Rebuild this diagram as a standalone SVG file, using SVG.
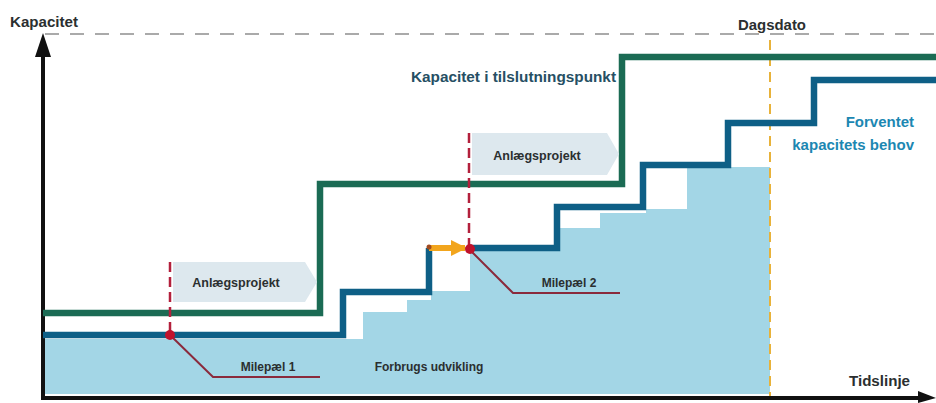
<svg xmlns="http://www.w3.org/2000/svg" width="936" height="403" viewBox="0 0 936 403">
<style>
.lbl{font-family:"Liberation Sans",Arial,sans-serif;font-weight:bold;fill:#2b2f30}
.ax{stroke:#111;stroke-width:4;fill:none}
.step{fill:none;stroke-width:6.5;stroke-linejoin:miter}
.ms{stroke:#b3203c;stroke-width:2.5;stroke-dasharray:10 5;fill:none}
.lead{stroke:#8a2a3c;stroke-width:2;fill:none}
.proj{fill:#dde8ee}
</style>
<defs>
<marker id="ah" markerWidth="16" markerHeight="16" refX="14" refY="8" orient="auto" markerUnits="userSpaceOnUse">
<path d="M0,0 L16,8 L0,16 Z" fill="#f2a51d"/>
</marker>
</defs>
<rect width="936" height="403" fill="#fff"/>
<g id="forbrug">
<polygon points="45,394 45,339 363,339 363,312 407,312 407,300 431,300 431,291 470,291 470,251 560,251 560,228 600,228 600,213 646,213 646,209 687,209 687,167 770,167 770,394" fill="#a3d6e6"/>
<text class="lbl" x="429" y="371" font-size="12" text-anchor="middle">Forbrugs udvikling</text>
</g>
<g id="axes">
<line x1="45" y1="34" x2="936" y2="34" stroke="#aaa" stroke-width="2" stroke-dasharray="14 11"/>
<line x1="43" y1="398" x2="43" y2="55" class="ax"/>
<polygon points="43,33 35,57 51,57" fill="#111"/>
<line x1="41" y1="398" x2="920" y2="398" class="ax"/>
<polygon points="936,398 918,391 918,403" fill="#111"/>
<text class="lbl" x="10" y="27" font-size="14" textLength="68" lengthAdjust="spacingAndGlyphs">Kapacitet</text>
<text class="lbl" x="849" y="386" font-size="14" textLength="61" lengthAdjust="spacingAndGlyphs">Tidslinje</text>
</g>
<g id="dagsdato">
<line x1="770" y1="40" x2="770" y2="396" stroke="#e8b23a" stroke-width="2" stroke-dasharray="10 6"/>
<text class="lbl" x="738" y="30" font-size="14" textLength="68" lengthAdjust="spacingAndGlyphs">Dagsdato</text>
</g>
<g id="connectors">
<path class="step" stroke="#1b6b54" d="M43,313 H320 V184 H622 V57 H936"/>
<path class="step" stroke="#0e5f86" d="M43,335 H343 V292 H429 V248"/>
<path class="step" stroke="#0e5f86" d="M471,248 H557 V207 H643 V165 H728 V123 H814 V80 H936"/>
<line x1="429" y1="248" x2="465" y2="248" stroke="#f2a51d" stroke-width="6" marker-end="url(#ah)"/>
<circle cx="429" cy="247" r="2.5" fill="#a04a20"/>
<path class="lead" d="M170,335 L213,377 H320"/>
<path class="lead" d="M470,250 L513,293 H620"/>
</g>
<g id="kapacitet">
<text x="411" y="82" font-size="14" font-family="'Liberation Sans',Arial,sans-serif" font-weight="bold" fill="#264f64" textLength="205" lengthAdjust="spacingAndGlyphs">Kapacitet i tilslutningspunkt</text>
</g>
<g id="behov">
<text x="914" y="127" font-size="15" font-family="'Liberation Sans',Arial,sans-serif" font-weight="bold" fill="#1c87b2" text-anchor="end">Forventet</text>
<text x="914" y="150" font-size="15" font-family="'Liberation Sans',Arial,sans-serif" font-weight="bold" fill="#1c87b2" text-anchor="end">kapacitets behov</text>
</g>
<g id="projekt1">
<polygon class="proj" points="173,262 305,262 317,282 305,302 173,302"/>
<text class="lbl" x="236" y="287" font-size="12.5" text-anchor="middle">Anlægsprojekt</text>
</g>
<g id="projekt2">
<polygon class="proj" points="472,133 607,133 619,154 607,175 472,175"/>
<text class="lbl" x="537" y="160" font-size="12.5" text-anchor="middle">Anlægsprojekt</text>
</g>
<g id="milepael1">
<line class="ms" x1="170" y1="262" x2="170" y2="332"/>
<circle cx="170" cy="335" r="5" fill="#c0122c"/>
<text class="lbl" x="268" y="371" font-size="12" text-anchor="middle">Milepæl 1</text>
</g>
<g id="milepael2">
<line class="ms" x1="469" y1="133" x2="469" y2="246"/>
<circle cx="470" cy="249" r="5" fill="#c0122c"/>
<text class="lbl" x="569" y="287" font-size="12" text-anchor="middle">Milepæl 2</text>
</g>
</svg>
